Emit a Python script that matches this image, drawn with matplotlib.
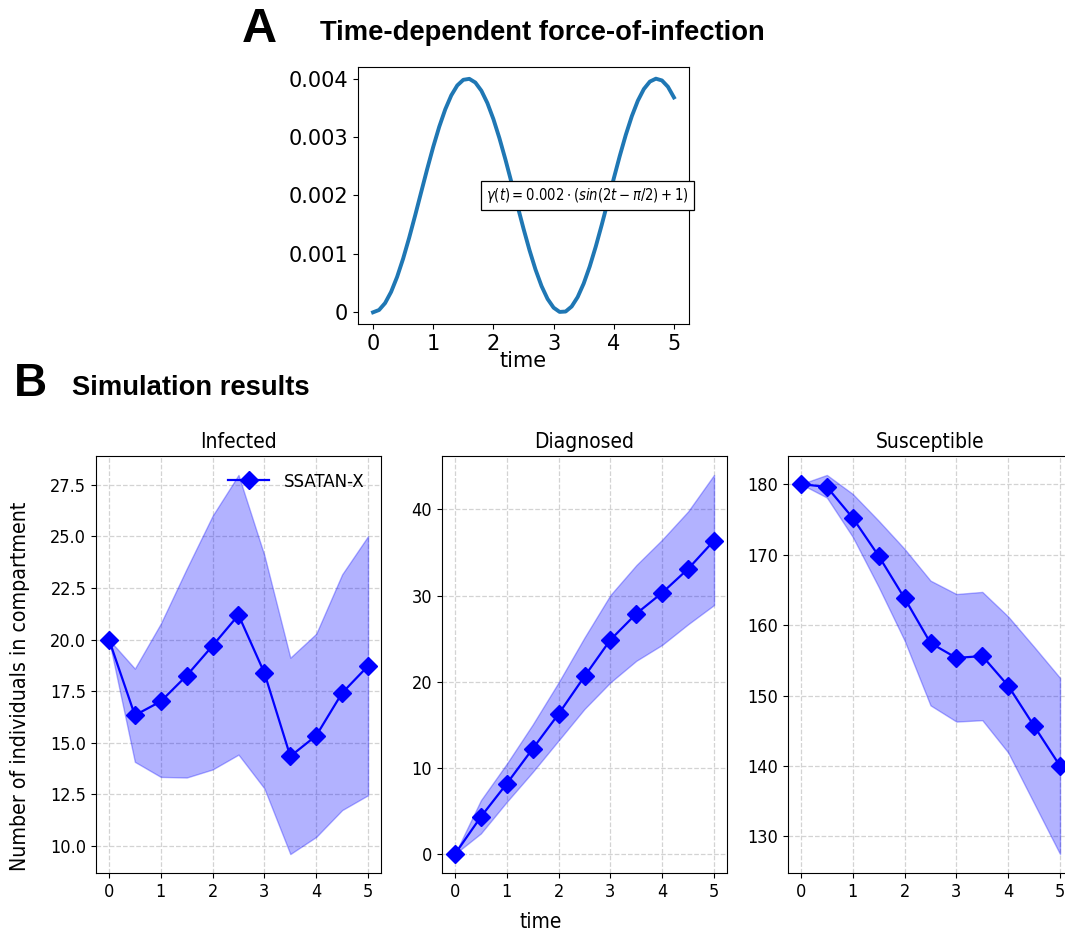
import numpy as np
import matplotlib
matplotlib.use('Agg')
import matplotlib.pyplot as plt
from matplotlib.ticker import FixedLocator

# Force-of-infection parameters: gamma(t) = AMP * (sin(FREQ*t - PHASE) + 1)
FOI_AMP = 0.002
FOI_FREQ = 2.0
FOI_PHASE = np.pi / 2
foi_t = np.linspace(0, 5, 51)

# Simulation output (mean and band) for each compartment
time = [0, 0.5, 1, 1.5, 2, 2.5, 3, 3.5, 4, 4.5, 5]

infected_mean = [20.0, 16.33, 17.0, 18.25, 19.7, 21.19, 18.38, 14.34, 15.34, 17.41, 18.72]
infected_upper = [20.0, 18.59, 20.77, 23.43, 26.0, 27.98, 24.08, 19.12, 20.28, 23.16, 25.01]
infected_lower = [20.0, 14.07, 13.34, 13.31, 13.70, 14.42, 12.78, 9.6, 10.43, 11.73, 12.45]

diagnosed_mean = [0.0, 4.32, 8.17, 12.22, 16.26, 20.62, 24.86, 27.9, 30.33, 33.1, 36.38]
diagnosed_upper = [0.0, 6.24, 10.48, 15.03, 19.92, 25.13, 30.06, 33.53, 36.49, 39.77, 44.0]
diagnosed_lower = [0.0, 2.39, 6.05, 9.52, 13.18, 16.84, 19.92, 22.43, 24.28, 26.67, 28.9]

susceptible_mean = [180.0, 179.6, 175.2, 169.8, 163.8, 157.45, 155.33, 155.6, 151.37, 145.66, 140.0]
susceptible_upper = [180.0, 181.3, 178.6, 174.8, 170.8, 166.3, 164.4, 164.7, 161.2, 156.9, 152.5]
susceptible_lower = [180.0, 178.1, 172.5, 165.4, 157.8, 148.6, 146.3, 146.5, 141.9, 134.7, 127.5]

compartments = ['Infected', 'Diagnosed', 'Susceptible']
means = [infected_mean, diagnosed_mean, susceptible_mean]
uppers = [infected_upper, diagnosed_upper, susceptible_upper]
lowers = [infected_lower, diagnosed_lower, susceptible_lower]

foi_xticks = [0, 1, 2, 3, 4, 5]
foi_yticks = [0, 0.001, 0.002, 0.003, 0.004]
foi_yticklabels = ['0', '0.001', '0.002', '0.003', '0.004']

# narrow font for the formula box
plt.rcParams['mathtext.fontset'] = 'custom'
plt.rcParams['mathtext.rm'] = 'DejaVu Sans:stretch=condensed'
plt.rcParams['mathtext.it'] = 'DejaVu Sans:italic:stretch=condensed'
plt.rcParams['mathtext.bf'] = 'DejaVu Sans:bold:stretch=condensed'

W, H = 1065, 936
fig = plt.figure(figsize=(W / 100, H / 100), dpi=100)


def add_axes_px(left, top, right, bottom):
    return fig.add_axes([left / W, 1 - bottom / H, (right - left) / W, (bottom - top) / H])


bold = dict(family='Liberation Sans', weight='bold', stretch='normal')
sim_font = dict(family='DejaVu Sans', stretch='condensed')

# Panel A: force of infection
ax = add_axes_px(358, 67, 689, 324)
gamma = FOI_AMP * (np.sin(FOI_FREQ * foi_t - FOI_PHASE) + 1)
ax.plot(foi_t, gamma, color='#1f77b4', lw=2.8)
ax.set_xticks(foi_xticks)
ax.yaxis.set_major_locator(FixedLocator(foi_yticks))
ax.set_yticklabels(foi_yticklabels)
ax.tick_params(labelsize=15)
ax.set_xlabel('time', fontsize=15, labelpad=-2)
ax.text(0.693, 0.5, r'$\gamma(t) = 0.002 \cdot (sin(2t - \pi/2) + 1)$',
        transform=ax.transAxes, ha='center', va='center', fontsize=10.6,
        bbox=dict(boxstyle='square,pad=0.35', fc='white', ec='black', lw=0.9))

fig.text(259 / W, 1 - 30 / H, 'A', fontsize=35, ha='center', va='center', **bold)
fig.text(320 / W, 1 - 33 / H, 'Time-dependent force-of-infection', fontsize=19.7,
         ha='left', va='center', **bold)
fig.text(30 / W, 1 - 384 / H, 'B', fontsize=33, ha='center', va='center', **bold)
fig.text(72 / W, 1 - 388 / H, 'Simulation results', fontsize=19.7,
         ha='left', va='center', **bold)

# Panel B: simulation results
lefts = [96, 442, 788]
for i, name in enumerate(compartments):
    ax = add_axes_px(lefts[i], 456, lefts[i] + 285, 873)
    ax.fill_between(time, lowers[i], uppers[i], color='blue', alpha=0.3)
    ax.plot(time, means[i], color='blue', marker='D', markersize=9, lw=1.6,
            label='SSATAN-X')
    ax.grid(True, linestyle='--', color='#d3d3d3', lw=0.9)
    ax.set_axisbelow(True)
    ax.set_title(name, fontsize=15, pad=6, **sim_font)
    ax.set_xticks([0, 1, 2, 3, 4, 5])
    for lbl in ax.get_xticklabels() + ax.get_yticklabels():
        lbl.set_fontsize(13)
        lbl.set_fontstretch('condensed')
    if i == 0:
        ax.legend(loc='upper right', frameon=False,
                  prop=dict(size=13.3, stretch='condensed'), handlelength=2.2)

fig.text(541 / W, 1 - 922 / H, 'time', fontsize=15, ha='center', va='center', **sim_font)
fig.text(20 / W, 1 - 686 / H, 'Number of individuals in compartment', fontsize=15.3,
         rotation=90, ha='center', va='center', **sim_font)

fig.savefig('out.png', dpi=100)
